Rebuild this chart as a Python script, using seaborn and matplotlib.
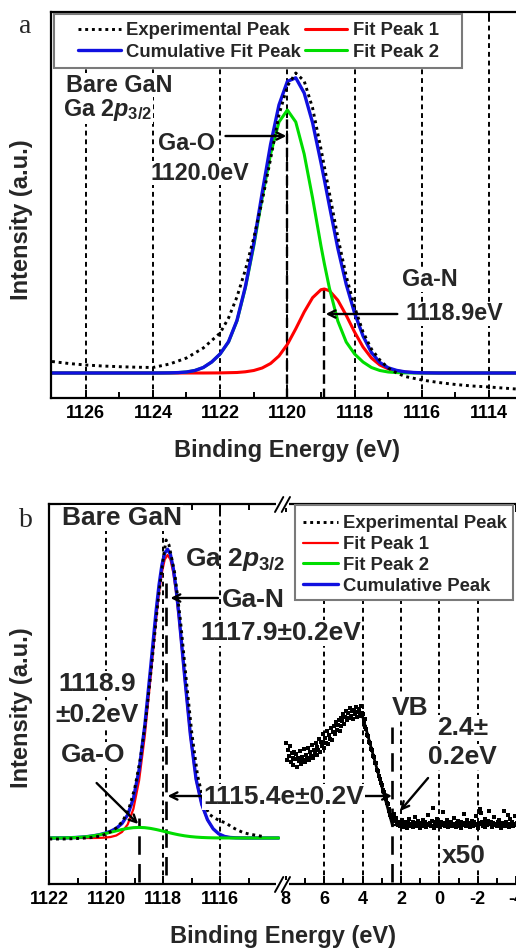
import numpy as np
import matplotlib
matplotlib.use("Agg")
import matplotlib.pyplot as plt
from matplotlib.patches import Rectangle
from matplotlib.lines import Line2D
import seaborn as sns

# ---------------- data: panel a ----------------
FIT_A_E = [1127.0, 1124.0, 1123.75, 1123.5, 1123.25, 1123.0, 1122.75, 1122.5, 1122.25,
           1122.0, 1121.75, 1121.5, 1121.25, 1121.0, 1120.75, 1120.5, 1120.25, 1120.0,
           1119.75, 1119.5, 1119.25, 1119.0, 1118.9, 1118.75, 1118.5, 1118.25, 1118.0,
           1117.75, 1117.5, 1117.25, 1117.0, 1116.75, 1116.5, 1116.25, 1116.0, 1115.75,
           1115.5, 1113.2]
FIT_A_PEAK1 = [0, 0, 0, 0, 0, 0, 0, 0, 0.05,
               0.1, 0.3, 0.5, 1.2, 2.5, 5.0, 9.5, 17, 28.6,
               44.2, 61, 75.3, 83.3, 84, 82.3, 72.8, 57.7, 40.9,
               26, 15, 8, 4.2, 2.2, 1.0, 0.45, 0.2, 0.1,
               0, 0]
FIT_A_PEAK2 = [0, 0, 0.05, 0.15, 0.4, 1.0, 2.5, 5.5, 11,
               19, 31, 52, 85, 127, 175, 219, 251, 263,
               251, 219, 175, 127, 109.3, 85, 52, 31, 19,
               11, 5.5, 2.5, 1.0, 0.4, 0.15, 0.05, 0, 0,
               0, 0]
FIT_A_CUM = [0, 0, 0.05, 0.15, 0.4, 1.0, 2.5, 5.5, 11.05,
             19.1, 31.3, 52.5, 86.2, 129.5, 180, 228.5, 268, 291.6,
             295.2, 280, 250.3, 210.3, 193.3, 167.3, 124.8, 88.7, 59.9,
             37, 20.5, 10.5, 5.2, 2.6, 1.15, 0.5, 0.2, 0.1,
             0, 0]
EXP_A_E = [1127.0, 1126.5, 1126.0, 1125.5, 1125.0, 1124.5, 1124.0, 1123.5, 1123.0,
           1122.5, 1122.0, 1121.75, 1121.5, 1121.25, 1121.0, 1120.75, 1120.5, 1120.25,
           1120.0, 1119.75, 1119.5, 1119.25, 1119.0, 1118.75, 1118.5, 1118.25, 1118.0,
           1117.75, 1117.5, 1117.25, 1117.0, 1116.75, 1116.5, 1116.0, 1115.5, 1115.0,
           1114.5, 1114.0, 1113.2]
EXP_A_I = [11.5, 9.5, 8, 7, 6.3, 5.8, 5.5, 9, 15,
           25, 40, 55, 76, 103, 135, 172, 214, 258,
           287, 300, 292, 265, 224, 180, 136, 97, 66,
           41, 24, 13, 5, 0, -3.5, -7, -9.5, -11.5,
           -13, -14, -16]
A_TICKS = [1126, 1124, 1122, 1120, 1118, 1116, 1114]
A_MINOR = [1125, 1123, 1121, 1119, 1117, 1115]
A_MARK_E = [1120.0, 1118.9]
A_MARK_TOP = [263, 84]

# ---------------- data: panel b ----------------
FIT_B_E = [1122.0, 1121.85, 1121.65, 1121.45, 1121.25, 1121.05, 1120.85, 1120.65, 1120.45,
           1120.25, 1120.05, 1119.85, 1119.65, 1119.45, 1119.25, 1119.05, 1118.85, 1118.65,
           1118.45, 1118.25, 1118.15, 1118.05, 1117.95, 1117.85, 1117.75, 1117.65, 1117.55,
           1117.45, 1117.25, 1117.05, 1116.85, 1116.65, 1116.45, 1116.25, 1116.05, 1115.85,
           1115.65, 1115.45, 1115.25, 1115.05, 1113.95]
FIT_B_PEAK1 = [0, 0, 0, 0, 0, 0, 0, 0, 0.03,
               0.1, 0.4, 1.0, 2.5, 6.0, 13.5, 29, 57.4, 102,
               159.4, 219.2, 245.2, 265.5, 278.5, 283, 278.5, 265.5, 245.2,
               219.2, 159.4, 102, 58, 33, 18, 9, 4, 1.5,
               0.5, 0.15, 0.05, 0, 0]
FIT_B_PEAK2 = [0.02, 0.04, 0.08, 0.16, 0.30, 0.53, 0.90, 1.43, 2.18,
               3.16, 4.36, 5.72, 7.14, 8.48, 9.60, 10.34, 10.6, 10.34,
               9.60, 8.48, 7.83, 7.14, 6.43, 5.72, 5.02, 4.36, 3.74,
               3.16, 2.18, 1.43, 0.90, 0.53, 0.30, 0.16, 0.08, 0.04,
               0.02, 0.01, 0, 0, 0]
FIT_B_CUM = [0.02, 0.04, 0.08, 0.16, 0.30, 0.53, 0.90, 1.44, 2.21,
             3.26, 4.76, 6.72, 9.64, 14.48, 23.1, 39.34, 68.0, 112.34,
             169.0, 227.68, 253.03, 272.64, 284.93, 288.72, 283.52, 269.86, 248.94,
             222.36, 161.58, 103.43, 58.9, 33.53, 18.3, 9.16, 4.08, 1.54,
             0.52, 0.16, 0.05, 0, 0]
EXP_B_E = [1122.0, 1121.5, 1121.0, 1120.5, 1120.2, 1120.0, 1119.8, 1119.6, 1119.4,
           1119.2, 1119.0, 1118.8, 1118.6, 1118.4, 1118.2, 1118.0, 1117.9, 1117.8,
           1117.6, 1117.4, 1117.2, 1117.0, 1116.8, 1116.6, 1116.4, 1116.2, 1116.0,
           1115.8, 1115.6, 1115.4, 1115.2, 1115.0, 1114.8, 1114.6, 1114.5]
EXP_B_I = [-1, -1, -0.5, 0.5, 2, 4, 7, 11, 18,
           30, 50, 80, 122, 175, 233, 280, 298, 293,
           265, 218, 160, 105, 63, 38, 24, 20, 17,
           15, 11, 8, 5.5, 4, 3, 2, 1.5]
# valence-band spectrum (x50), binding energy 8.00 ... -4.05 eV in 0.05 eV steps
VB_E = np.round(np.linspace(8.0, -4.05, 242), 2)
VB_I = [95, 78, 88, 82, 92, 76, 85, 80, 73, 86,
        79, 84, 71, 80, 77, 87, 74, 81, 78, 89,
        76, 83, 80, 90, 78, 86, 82, 93, 80, 88,
        84, 95, 83, 91, 88, 99, 86, 96, 92, 104,
        90, 100, 95, 107, 94, 103, 99, 110, 98, 106,
        112, 104, 116, 108, 113, 118, 107, 120, 112, 117,
        124, 114, 121, 127, 118, 125, 120, 130, 122, 127,
        119, 128, 124, 131, 121, 126, 129, 122, 132, 125,
        124, 117, 119, 111, 109, 103, 102, 96, 95, 89,
        88, 82, 81, 75, 75, 68, 67, 62, 59, 55,
        53, 48, 46, 42, 39, 35, 34, 29, 27, 23, 21,
        22, 18, 24, 17, 20, 15, 13, 16, 12, 15, 18, 11, 14, 16, 13, 10, 15, 19, 12, 14,
        13, 16, 11, 15, 21, 14, 12, 17, 13, 10, 15, 14, 18, 12, 16, 11, 14, 23, 13, 15,
        12, 17, 30, 10, 16, 13, 15, 19, 12, 14, 11, 16, 13, 26, 15, 12, 14, 18, 11, 15,
        13, 16, 12, 14, 20, 13, 11, 15, 17, 12, 14, 16, 10, 13, 15, 24, 14, 12, 18, 13,
        15, 11, 14, 17, 12, 16, 13, 22, 14, 10, 15, 29, 25, 16, 12, 14, 19, 11, 15, 13,
        17, 27, 14, 16, 11, 15, 21, 13, 14, 12, 16, 18, 13, 10, 15, 14, 27, 12, 16, 13,
        23, 11, 14, 19, 13, 16, 12, 14, 22, 13, 15]
VB_EDGE_E = [4.05, 2.45]
VB_EDGE_I = [125, 13]
VB_BG_E = [2.45, -4.1]
VB_BG_I = [13, 13]
BL_TICKS = [1122, 1120, 1118, 1116]
BL_MINOR = [1121, 1119, 1117, 1115]
BL_GRID = [1120, 1118, 1116]
BR_TICKS = [8, 6, 4, 2, 0, -2, -4]
BR_MINOR = [7, 5, 3, 1, -1, -3]
BR_GRID = [6, 4, 2, 0, -2]
BL_MARK_E = [1117.9, 1118.85]
BL_MARK_LO = [-37, -44]
BL_MARK_HI = [255, 20]
VB_MARK_E = [2.45]

# ---------------- style ----------------
sns.set_style("ticks")
plt.rcParams["font.family"] = ["Liberation Sans", "DejaVu Sans"]
plt.rcParams["font.weight"] = "bold"
plt.rcParams["axes.unicode_minus"] = False
plt.rcParams["mathtext.fontset"] = "custom"
plt.rcParams["mathtext.it"] = "Liberation Sans:italic:bold"
plt.rcParams["mathtext.rm"] = "Liberation Sans:bold"
plt.rcParams["mathtext.bf"] = "Liberation Sans:bold"

RED, GREEN, BLUE = "#ff0000", "#00dd00", "#1010e0"
DOT = (0, (1, 1.3))
GRID_LS = (0, (2.5, 2))
W, H = 516, 950


def fx(px):
    return px / W


def fy(py):
    return 1 - py / H


fig = plt.figure(figsize=(W / 100, H / 100), dpi=100)


def line(ax, x, y, **kw):
    sns.lineplot(x=x, y=y, ax=ax, sort=False, estimator=None, errorbar=None,
                 legend=False, **kw)
    return ax.lines[-1]


def style_axis(ax, majors, minors):
    ax.set_xticks(majors)
    ax.set_xticks(minors, minor=True)
    ax.set_yticks([])
    ax.tick_params(axis="x", which="both", direction="in", top=True, bottom=True,
                   width=1.4, labelsize=13, pad=5, colors="k")
    ax.tick_params(axis="x", which="major", length=6)
    ax.tick_params(axis="x", which="minor", length=4)
    for s in ax.spines.values():
        s.set_linewidth(1.6)
        s.set_color("k")
    ax.spines["right"].set_visible(False)
    ax.set_xlabel("")
    ax.set_ylabel("")


def txt(ax, x, y, s, size, box=True, **kw):
    ax.text(x, y, s, fontsize=size, fontweight="bold", ha="left", va="center",
            zorder=6, clip_on=False,
            bbox=dict(fc="white", ec="none", pad=0.6) if box else None, **kw)


def arrow(ax, xy, xytext, style="->"):
    ax.annotate("", xy=xy, xytext=xytext, zorder=5, annotation_clip=False,
                arrowprops=dict(arrowstyle=style, lw=1.7, color="k",
                                mutation_scale=13, shrinkA=0, shrinkB=0))


# ================= panel a =================
axA = fig.add_axes([fx(51), fy(398), fx(516) - fx(51), fy(12) - fy(398)])
for e in A_TICKS:
    axA.axvline(e, color="k", lw=1.4, ls=GRID_LS, zorder=1)
axA.vlines(A_MARK_E, -25, A_MARK_TOP, colors="k", lw=1.7,
           linestyles=[(0, (4, 2))], zorder=1.5)
pa1 = line(axA, FIT_A_E, FIT_A_PEAK1, color=RED, lw=2.2, zorder=2)
pa2 = line(axA, FIT_A_E, FIT_A_PEAK2, color=GREEN, lw=2.2, zorder=2.2)
pac = line(axA, FIT_A_E, FIT_A_CUM, color=BLUE, lw=2.4, zorder=2.4)
pae = line(axA, EXP_A_E, EXP_A_I, color="k", lw=2.1, linestyle=DOT, zorder=2.6)
axA.set_xlim(1127.03, 1113.2)
axA.set_ylim(-25, 361)
style_axis(axA, A_TICKS, A_MINOR)

txt(axA, 1126.57, 288, "Bare GaN", 16.8)
txt(axA, 1126.66, 263, r"Ga $\mathit{2p}_{\mathit{3/2}}$", 16.8)
txt(axA, 1123.86, 230, "Ga-O", 16.8)
txt(axA, 1124.07, 200, "1120.0eV", 16.8)
arrow(axA, (1120.03, 237), (1121.84, 237))
txt(axA, 1116.58, 93, "Ga-N", 16.8)
txt(axA, 1116.49, 59, "1118.9eV", 16.8)
arrow(axA, (1118.86, 59), (1116.73, 59))

fig.add_artist(Rectangle((fx(54), fy(68)), fx(462) - fx(54), fy(14) - fy(68),
                         transform=fig.transFigure, fc="white", ec="#7a7a7a",
                         lw=1.5, zorder=7))
legA = fig.legend([pae, pac, pa1, pa2],
                  ["Experimental Peak", "Cumulative Fit Peak", "Fit Peak 1", "Fit Peak 2"],
                  ncol=2, loc="center", bbox_to_anchor=(fx(258.5), fy(41.5)),
                  bbox_transform=fig.transFigure, frameon=False,
                  prop={"weight": "bold", "size": 13.3}, handlelength=2.3,
                  handletextpad=0.3, columnspacing=0.2, labelspacing=0.25,
                  borderpad=0)
legA.set_zorder(8)

# ================= panel b =================
axL = fig.add_axes([fx(49.3), fy(884), fx(280) - fx(49.3), fy(504) - fy(884)])
axR = fig.add_axes([fx(284), fy(884), fx(517) - fx(284), fy(504) - fy(884)])

for e in BL_GRID:
    axL.axvline(e, color="k", lw=1.4, ls=GRID_LS, zorder=1)
for e in BR_GRID:
    axR.axvline(e, color="k", lw=1.4, ls=GRID_LS, zorder=1)
for e, lo, hi in zip(BL_MARK_E, BL_MARK_LO, BL_MARK_HI):
    axL.vlines([e], lo, hi, colors="k", lw=1.9, linestyles=[(0, (7, 3.5))], zorder=1.5)
axR.vlines(VB_MARK_E, -44, 111, colors="k", lw=1.9, linestyles=[(0, (7, 3.5))], zorder=1.5)

pb1 = line(axL, FIT_B_E, FIT_B_PEAK1, color=RED, lw=1.6, zorder=2)
pbc = line(axL, FIT_B_E, FIT_B_CUM, color=BLUE, lw=2.4, zorder=2.2)
pb2 = line(axL, FIT_B_E, FIT_B_PEAK2, color=GREEN, lw=2.2, zorder=2.4)
pbe = line(axL, EXP_B_E, EXP_B_I, color="k", lw=2.1, linestyle=DOT, zorder=2.6)

sns.scatterplot(x=VB_E, y=VB_I, ax=axR, s=8, marker="s", color="k",
                linewidth=0, zorder=3, legend=False)
line(axR, VB_EDGE_E, VB_EDGE_I, color="k", lw=2.0, zorder=3.2)
line(axR, VB_BG_E, VB_BG_I, color="k", lw=1.6, zorder=3.2)

axL.set_xlim(1122.0, 1113.905)
axR.set_xlim(8.094, -4.042)
for ax in (axL, axR):
    ax.set_ylim(-46, 334)
style_axis(axL, BL_TICKS, BL_MINOR)
style_axis(axR, BR_TICKS, BR_MINOR)
axR.spines["left"].set_visible(False)

# texts panel b
txt(axL, 1121.56, 320, "Bare GaN", 19)
txt(axR, 13.25, 279, r"Ga $\mathit{2p}_{\mathit{3/2}}$", 19, box=False)
txt(axR, 11.32, 238, "Ga-N", 19)
arrow(axL, (1117.75, 240), (1116.08, 240))
txt(axR, 12.47, 205, "1117.9±0.2eV", 19)
txt(axL, 1121.69, 154, "1118.9", 19)
txt(axL, 1121.80, 123, "±0.2eV", 19)
txt(axL, 1121.59, 83, "Ga-O", 19)
arrow(axL, (1118.88, 14), (1120.34, 55))
arrow(axL, (1117.85, 42), (1116.3, 42))
arrow(axR, (2.47, 42), (4.5, 42))
txt(axR, 12.31, 41, "1115.4e±0.2V", 19)
txt(axR, 2.47, 130, "VB", 19)
txt(axR, 0.125, 110, "2.4±", 19)
txt(axR, 0.59, 81, "0.2eV", 19)
arrow(axR, (2.05, 27), (0.59, 60))
txt(axR, -0.135, -18, "x50", 19)

fig.add_artist(Rectangle((fx(295), fy(600)), fx(513) - fx(295), fy(505) - fy(600),
                         transform=fig.transFigure, fc="white", ec="#7a7a7a",
                         lw=1.5, zorder=7))
legB = fig.legend([pbe, pb1, pb2, pbc],
                  ["Experimental Peak", "Fit Peak 1", "Fit Peak 2", "Cumulative Peak"],
                  ncol=1, loc="center", bbox_to_anchor=(fx(405), fy(555)),
                  bbox_transform=fig.transFigure, frameon=False,
                  prop={"weight": "bold", "size": 13.3}, handlelength=1.9,
                  handletextpad=0.27, labelspacing=0.2, borderpad=0)
legB.set_zorder(8)

# axis break marks
for yc in (504, 884):
    fig.add_artist(Rectangle((fx(276), fy(yc + 4)), fx(289) - fx(276), fy(yc - 4) - fy(yc + 4),
                             transform=fig.transFigure, fc="white", ec="none", zorder=3))
    for x0 in (275, 281.7):
        fig.add_artist(Line2D([fx(x0), fx(x0 + 8.3)], [fy(yc + 8), fy(yc - 7)],
                              transform=fig.transFigure, color="k", lw=1.4, zorder=4))

# axis labels and panel letters
fig.text(fx(287.5), fy(451), "Binding Energy (eV)", ha="center", va="center",
         fontsize=17, fontweight="bold")
fig.text(fx(282.5), fy(937), "Binding Energy (eV)", ha="center", va="center",
         fontsize=17, fontweight="bold")
fig.text(fx(22), fy(220), "Intensity (a.u.)", ha="center", va="center",
         rotation=90, fontsize=17, fontweight="bold")
fig.text(fx(22), fy(708), "Intensity (a.u.)", ha="center", va="center",
         rotation=90, fontsize=17, fontweight="bold")
fig.text(fx(19), fy(32.7), "a", ha="left", va="baseline", fontsize=20,
         fontweight="normal", family="Liberation Serif")
fig.text(fx(19), fy(527), "b", ha="left", va="baseline", fontsize=20,
         fontweight="normal", family="Liberation Serif")

fig.savefig("out.png", dpi=100, facecolor="white")
